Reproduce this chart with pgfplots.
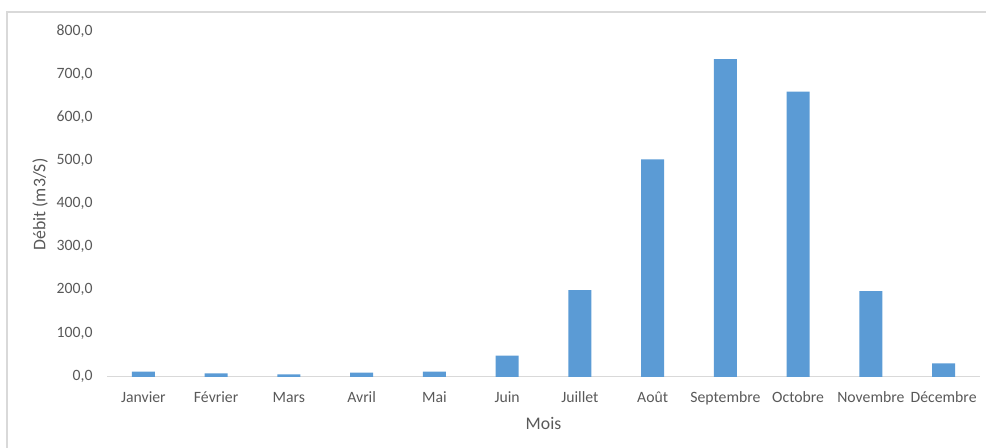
\documentclass[border=0pt]{standalone}
\usepackage{fontspec}
\setmainfont{Carlito}
\usepackage{pgfplots}
\pgfplotsset{compat=1.18}
\definecolor{barblue}{HTML}{5B9BD5}
\definecolor{txtgray}{HTML}{595959}
\definecolor{linegray}{HTML}{D9D9D9}
\newcommand{\tickfont}{\fontsize{11.8}{14}\selectfont}
\newcommand{\labelfont}{\fontsize{13.3}{16}\selectfont}

\begin{document}
\begin{tikzpicture}
  % page area and chart frame
  \useasboundingbox (0,0) rectangle (739.5pt,336pt);
  \draw[linegray, line width=1pt] (5.25pt,0) -- (5.25pt,327pt) -- (739.5pt,327pt);

  \begin{axis}[
      at={(80.25pt,53.25pt)}, anchor=south west,
      scale only axis, width=654.75pt, height=258.75pt,
      xmin=-0.5, xmax=11.5, ymin=0, ymax=800,
      ytick={0,100,...,800},
      xtick={0,...,11},
      xticklabels={Janvier,Février,Mars,Avril,Mai,Juin,Juillet,Août,Septembre,Octobre,Novembre,Décembre},
      axis x line=bottom, axis y line=left,
      axis line style={-},
      y axis line style={draw=none},
      x axis line style={linegray, line width=0.75pt},
      major tick length=0pt, tick style={draw=none},
      /pgf/number format/.cd, fixed, fixed zerofill, precision=1, use comma, assume math mode=true,
      /pgfplots/.cd,
      yticklabel style={anchor=mid east, inner sep=0pt, xshift=-10.7pt, font=\tickfont, text=txtgray},
      xticklabel style={anchor=base, inner sep=0pt, yshift=-19.5pt, font=\tickfont, text=txtgray},
      xlabel={Mois},
      ylabel={Débit (m3/S)},
      xlabel style={at={(axis description cs:0.5,-0.136)}, anchor=center, font=\labelfont, text=txtgray},
      ylabel style={at={(axis description cs:-0.0767,0.5)}, anchor=center, font=\labelfont, text=txtgray},
    ]
    \addplot[ybar, bar width=17.25pt, fill=barblue, draw=none] coordinates {
      (0,12.3) (1,8.5) (2,6.2) (3,10.0) (4,12.3) (5,49.4)
      (6,201.7) (7,504.5) (8,737.0) (9,661.5) (10,199.4) (11,31.7)
    };
  \end{axis}
\end{tikzpicture}
\end{document}
